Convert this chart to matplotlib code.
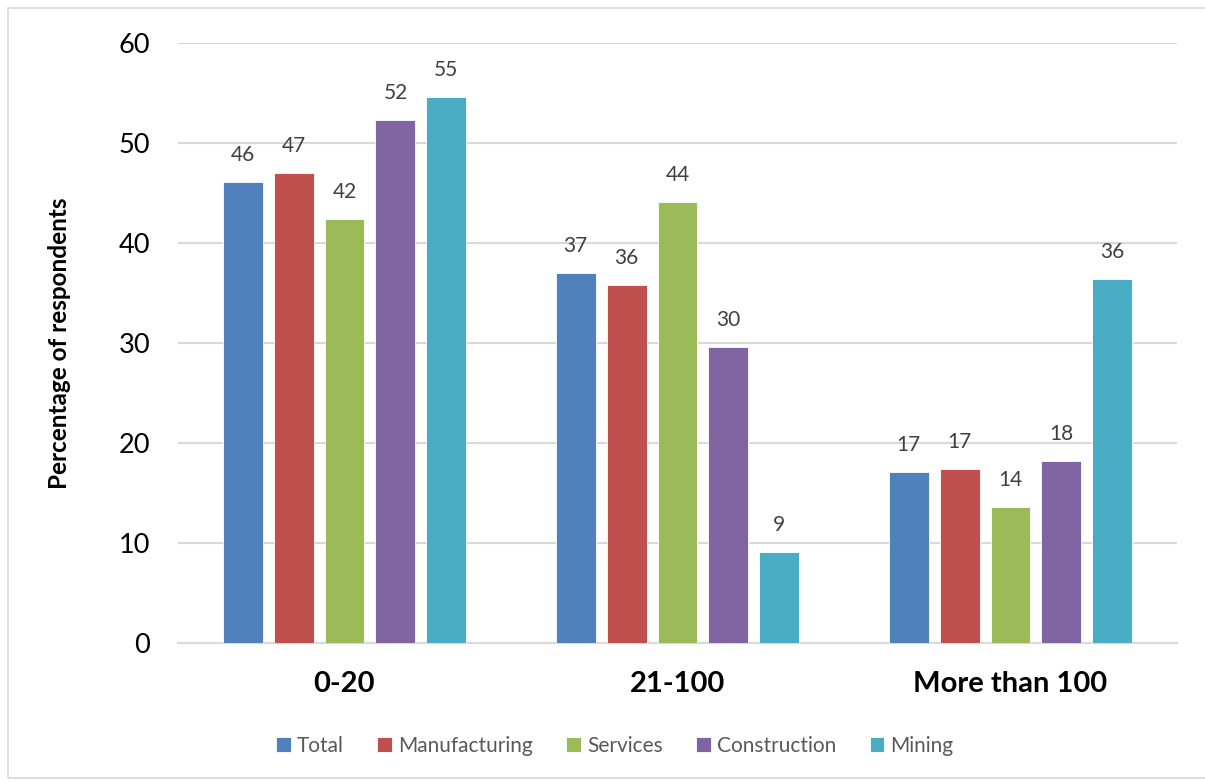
import matplotlib.pyplot as plt
import numpy as np
from matplotlib.patches import Rectangle

plt.rcParams['font.family'] = ['Lato', 'DejaVu Sans']

# respondents by firm size (number of employees)
categories = ["0-20", "21-100", "More than 100"]
sectors = ["Total", "Manufacturing", "Services", "Construction", "Mining"]
total = [46.1, 37.0, 17.1]
manufacturing = [47.0, 35.8, 17.4]
services = [42.4, 44.1, 13.6]
construction = [52.3, 29.6, 18.2]
mining = [54.6, 9.1, 36.4]
series = [total, manufacturing, services, construction, mining]
colors = ["#4F81BD", "#C0504D", "#9BBB59", "#8064A2", "#4BACC6"]

fig = plt.figure(figsize=(12.05, 7.82), dpi=100)
ax = fig.add_axes([178 / 1205, 1 - 643 / 782, 999 / 1205, 600 / 782])

# light frame around the whole chart
fig.patches.append(Rectangle((8 / 1205, 4 / 782), 1.2, 770 / 782, transform=fig.transFigure,
                             fill=False, edgecolor="#D9D9D9", linewidth=1.2))

x = np.arange(len(categories))
width = 0.12
step = 0.153
for i, (vals, name, c) in enumerate(zip(series, sectors, colors)):
    pos = x + (i - 2) * step
    bars = ax.bar(pos, vals, width, color=c, label=name, edgecolor="white", linewidth=0.6, zorder=3)
    for b, v in zip(bars, vals):
        ax.text(b.get_x() + b.get_width() / 2, v + 2.7, f"{round(v):d}",
                ha="center", va="center", fontsize=15, color="#404040")

ax.set_xlim(-0.5, 2.5)
ax.set_ylim(0, 60)
ax.set_yticks(range(0, 61, 10))
ax.yaxis.grid(True, color="#D9D9D9", linewidth=1.5, zorder=0)
ax.set_axisbelow(True)
for s in ["top", "right", "left"]:
    ax.spines[s].set_visible(False)
ax.spines["bottom"].set_color("#D9D9D9")
ax.spines["bottom"].set_linewidth(1.5)
ax.tick_params(axis="y", length=0, labelsize=19.5, pad=20)
ax.tick_params(axis="x", length=0, labelsize=21, pad=20)
ax.set_xticks(x)
ax.set_xticklabels(categories, fontweight="bold")
ax.set_ylabel("Percentage of respondents", fontsize=17.5, fontweight="bold", labelpad=34)

ax.legend(loc="center", bbox_to_anchor=(615 / 1205, 1 - 746 / 782), bbox_transform=fig.transFigure,
          ncol=5, frameon=False, fontsize=15, handlelength=0.7, handleheight=0.7,
          handletextpad=0.3, columnspacing=1.6, labelcolor="#595959")

fig.savefig("out.png", dpi=100)
